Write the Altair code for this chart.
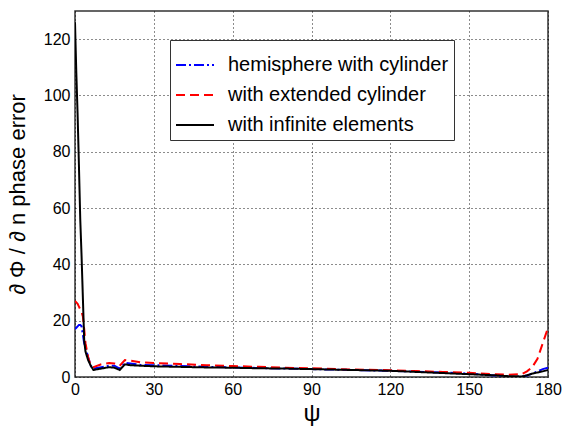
import altair as alt
import pandas as pd

psi = [0, 0.5, 1, 1.5, 2, 2.5, 3, 3.5, 4, 5, 6, 7, 10, 13, 15, 17, 19, 21, 25, 30,
       40, 50, 60, 70, 80, 90, 100, 110, 120, 130, 140, 150, 160, 165, 170, 172, 174,
       176, 178, 180]

hemisphere = [17, 17.5, 18, 18.5, 18.5, 18, 15, 12, 10.5, 7, 4, 3, 3.5, 4, 4, 3, 5,
              4.8, 4.3, 4.2, 3.9, 3.6, 3.4, 3.2, 3.0, 2.8, 2.6, 2.4, 2.2, 1.9, 1.6, 1.2,
              0.5, 0.1, 0.1, 0.5, 1.2, 2.0, 2.8, 3.3]

extended = [27, 26.5, 26, 25, 24, 23, 21.5, 17, 12, 7, 4, 3.5, 4.5, 5, 4.8, 4, 6, 5.8,
            5.2, 5, 4.6, 4.2, 3.9, 3.6, 3.3, 3.1, 2.8, 2.6, 2.4, 2.1, 1.8, 1.5, 1.0,
            0.8, 1.0, 2.0, 3.5, 6.5, 12, 17.5]

infinite = [126, 108, 93, 75, 56, 43, 28, 13, 9, 6, 4, 2.5, 3, 3.5, 3.3, 2.5, 4.5, 4.2,
            4, 3.8, 3.6, 3.4, 3.3, 3.1, 3.0, 2.8, 2.6, 2.4, 2.2, 1.8, 1.4, 1.0, 0.6,
            0.3, 0.2, 0.6, 1.2, 1.6, 2.0, 2.5]

series_names = ["hemisphere with cylinder", "with extended cylinder", "with infinite elements"]
series_vals = [hemisphere, extended, infinite]

x_ticks = [0, 30, 60, 90, 120, 150, 180]
y_ticks = [0, 20, 40, 60, 80, 100, 120]

rows = []
for name, vals in zip(series_names, series_vals):
    for i, (p, v) in enumerate(zip(psi, vals)):
        rows.append({"psi": p, "value": v, "series": name, "order": i})
df = pd.DataFrame(rows)

FONT = "Liberation Sans"

chart = alt.Chart(df).mark_line(strokeWidth=2, clip=True).encode(
    x=alt.X("psi:Q",
            scale=alt.Scale(domain=[0, 180], nice=False, zero=False),
            axis=alt.Axis(values=x_ticks, title="ψ", titleFontSize=24,
                          titleFontWeight="normal", titlePadding=4,
                          labelFontSize=16, labelPadding=4, ticks=False,
                          labelFlush=False,
                          domain=False, gridDash=[1, 3], gridColor="#000",
                          gridOpacity=0.9)),
    y=alt.Y("value:Q",
            scale=alt.Scale(domain=[0, 130], nice=False),
            axis=alt.Axis(values=y_ticks, title="∂ Φ / ∂ n   phase error",
                          titleFontSize=22, titleFontWeight="normal",
                          titleX=-46, labelFontSize=16, labelPadding=5,
                          labelFlush=False,
                          ticks=False, domain=False, gridDash=[1, 3],
                          gridColor="#000", gridOpacity=0.9)),
    color=alt.Color("series:N",
                    scale=alt.Scale(domain=series_names,
                                    range=["#0000ff", "#ff0000", "#000000"]),
                    legend=alt.Legend(title=None, orient="none", legendX=95,
                                      legendY=29, symbolType="M-1,0L1,0",
                                      symbolSize=1444, symbolStrokeWidth=2,
                                      labelFontSize=20, labelFont=FONT,
                                      labelOffset=13,
                                      rowPadding=0, padding=5,
                                      strokeColor="#333", fillColor="white",
                                      labelLimit=400)),
    strokeDash=alt.StrokeDash("series:N",
                              scale=alt.Scale(domain=series_names,
                                              range=[[10, 3, 2, 3], [9, 5], [1, 0]]),
                              legend=None),
    order="order:Q",
).properties(
    width=473, height=366,
    autosize=alt.AutoSizeParams(type="none"),
    padding={"left": 75, "top": 11, "right": 19, "bottom": 60},
).configure(
    font=FONT,
).configure_view(
    stroke="#333", strokeWidth=1.5
).configure_axis(
    labelColor="#000", titleColor="#000", labelFont=FONT, titleFont=FONT
)

chart.save("out.html", embed_options={"renderer": "svg", "actions": False})
